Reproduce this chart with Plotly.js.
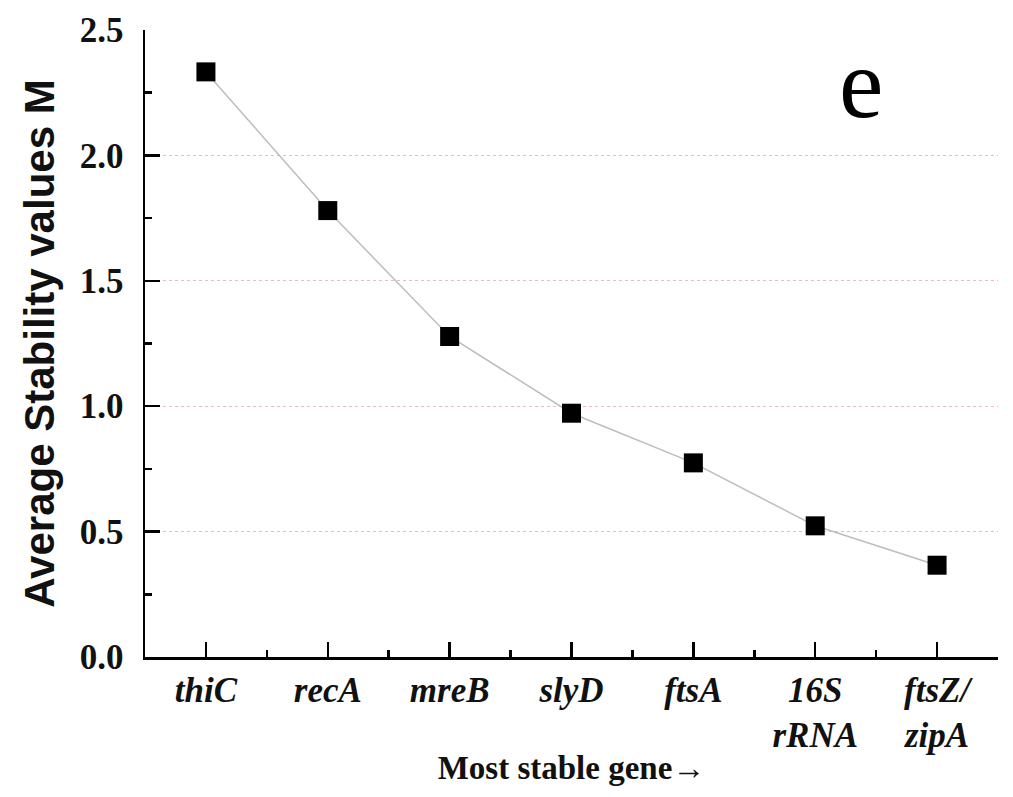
<!DOCTYPE html>
<html>
<head>
<meta charset="utf-8">
<script src="https://cdn.plot.ly/plotly-3.0.1.min.js"></script>
<style>html,body{margin:0;padding:0;background:#fff;}#chart{width:1013px;height:797px;}</style>
</head>
<body>
<div id="chart"></div>
<script>
const genes = ['thiC', 'recA', 'mreB', 'slyD', 'ftsA', '16S<br>rRNA', 'ftsZ/<br>zipA'];
const stabilityM = [2.333, 1.78, 1.278, 0.972, 0.774, 0.523, 0.366];
const yTickVals = [0.0, 0.5, 1.0, 1.5, 2.0, 2.5];
const yTickText = ['0.0', '0.5', '1.0', '1.5', '2.0', '2.5'];
const panelLabel = 'e';

const xIdx = genes.map((g, i) => i);
const serif = 'Liberation Serif';

const trace = {
  x: xIdx,
  y: stabilityM,
  mode: 'lines+markers',
  type: 'scatter',
  line: {color: '#bdbdbd', width: 1.5},
  marker: {symbol: 'square', size: 19, color: '#000000'},
  hoverinfo: 'y'
};

const layout = {
  width: 1013, height: 797,
  margin: {l: 145, r: 15, t: 30, b: 140},
  paper_bgcolor: '#ffffff', plot_bgcolor: '#ffffff',
  showlegend: false,
  xaxis: {
    range: [-0.5, 6.5],
    automargin: false,
    tickmode: 'array', tickvals: xIdx, ticktext: genes.map(g => '<i>' + g + '</i>'),
    showline: true, linecolor: '#000', linewidth: 2.5,
    ticks: 'inside', ticklen: 15, tickwidth: 2.5, tickcolor: '#000',
    minor: {tickmode: 'linear', tick0: 0.5, dtick: 1, ticks: 'inside', ticklen: 7, tickwidth: 2.5, tickcolor: '#000', showgrid: false},
    showgrid: false, zeroline: false,
    tickfont: {family: serif, size: 35, color: '#111', weight: 'bold'},
    ticklabelstandoff: 0,
    title: {text: '<b>Most stable gene→</b>', font: {family: serif, size: 33, color: '#111'}, standoff: 2}
  },
  yaxis: {
    range: [0, 2.5],
    automargin: false,
    tickmode: 'array', tickvals: yTickVals, ticktext: yTickText,
    showline: true, linecolor: '#000', linewidth: 2.5,
    ticks: 'inside', ticklen: 15, tickwidth: 2.5, tickcolor: '#000',
    minor: {tickmode: 'linear', tick0: 0.25, dtick: 0.5, ticks: 'inside', ticklen: 7, tickwidth: 2.5, tickcolor: '#000', showgrid: false},
    showgrid: true, gridcolor: '#f0b8b8', gridwidth: 1, griddash: 'dot',
    zeroline: false,
    tickfont: {family: serif, size: 35, color: '#111', weight: 'bold'},
    ticklabelstandoff: 12,
    title: {text: '<b>Average Stability values M</b>', font: {family: 'Liberation Sans', size: 42, color: '#111'}, standoff: 12}
  },
  annotations: [{
    text: panelLabel, xref: 'paper', yref: 'paper', x: 0.839, y: 0.915,
    showarrow: false, xanchor: 'center', yanchor: 'middle',
    font: {family: serif, size: 100, color: '#000'}
  }]
};

Plotly.newPlot('chart', [trace], layout, {displayModeBar: false, staticPlot: true});
</script>
</body>
</html>
